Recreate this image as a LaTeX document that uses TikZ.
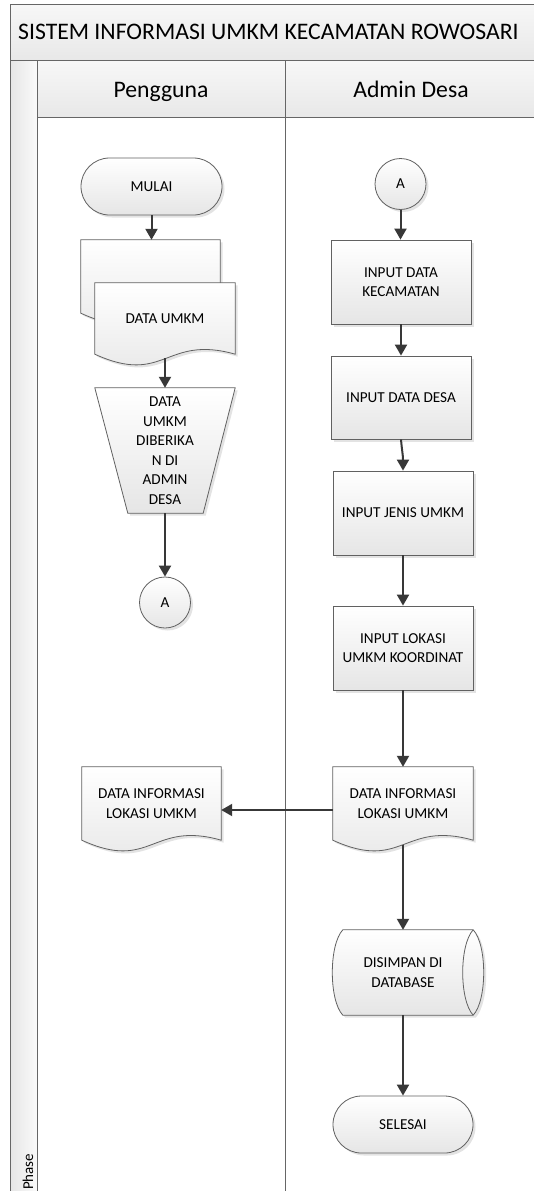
\documentclass[tikz,border=0pt]{standalone}
\usepackage{fontspec}
\setmainfont{Carlito}
\usetikzlibrary{arrows.meta,shapes.geometric,shapes.misc,shadows,calc}
\pgfdeclarelayer{back}
\pgfdeclarelayer{bg}
\pgfsetlayers{back,bg,main}
\begin{document}
\begin{tikzpicture}[x=1pt,y=-1pt,
  frame/.style={draw=black!60, line width=0.9pt},
  flow/.style={draw=black!78, line width=2pt, -{Triangle[width=12pt,length=11pt]}},
  shp/.style={draw=black!62, line width=0.8pt, top color=white, bottom color=black!10,
     drop shadow={shadow xshift=2.5pt, shadow yshift=-2.5pt, opacity=0.22}},
  lbl/.style={font=\fontsize{15.2}{19.5}\selectfont, align=center, text=black, inner sep=0pt},
  procbox/.style={shp, lbl, rectangle, minimum width=140pt, minimum height=84pt},
  term/.style={shp, lbl, rounded rectangle, minimum width=141pt, minimum height=57pt},
  conn/.style={shp, lbl, circle, minimum size=51pt},
  ghost/.style={lbl, rectangle, draw=none, fill=none},
  hdr/.style={font=\fontsize{23.7}{27}\selectfont, text=black, inner sep=0pt}
]
\useasboundingbox (0,0) rectangle (533,1191);

% ---------- swimlane frame ----------
\begin{pgfonlayer}{back}
  \path[fill=white] (0,0) rectangle (533,1191);
  \path[frame, top color=black!3, bottom color=black!9] (10,4) rectangle (545,60);
  \path[frame, top color=black!3, bottom color=black!9] (37,60) rectangle (285,117);
  \path[frame, top color=black!3, bottom color=black!9] (285,60) rectangle (545,117);
  \path[frame, left color=black!10, right color=black!2] (10,60) rectangle (37,1200);
  \draw[frame] (285,117) -- (285,1200);
\end{pgfonlayer}
\node[hdr, anchor=base west] (title) at (18,39) {SISTEM INFORMASI UMKM KECAMATAN ROWOSARI};
\node[hdr, anchor=base] (h1) at (161,97) {Pengguna};
\node[hdr, anchor=base] (h2) at (411,97) {Admin Desa};
\node[lbl, font=\fontsize{15}{18}\selectfont, rotate=90, anchor=base west] (phase) at (33,1190) {Phase};

% ---------- Pengguna lane ----------
\node[term] (mulai) at (151.5,186.5) {MULAI};
\node[ghost, minimum width=139pt, minimum height=73pt] (mdback) at (150.5,276.5) {};
\node[ghost, minimum width=140pt, minimum height=71pt] (md) at (165,318.5) {DATA UMKM};
\node[ghost, minimum width=140pt, minimum height=125pt] (trap) at (165,450.5)
   {DATA\\UMKM\\DIBERIKA\\N DI\\ADMIN\\DESA};
\node[conn] (aL) at (165,602.5) {A};
\node[ghost, minimum width=139pt, minimum height=73pt] (doc1) at (151.5,803.5)
   {DATA INFORMASI\\LOKASI UMKM};

% ---------- Admin Desa lane ----------
\node[conn] (aR) at (400.5,184) {A};
\node[procbox] (kec) at (401,282) {INPUT DATA\\KECAMATAN};
\node[procbox, minimum height=83pt] (desa) at (401,397.5) {INPUT DATA DESA};
\node[procbox] (jenis) at (403,513) {INPUT JENIS UMKM};
\node[procbox] (lokasi) at (403,648) {INPUT LOKASI\\UMKM KOORDINAT};
\node[ghost, minimum width=140pt, minimum height=73pt] (doc2) at (403,803.5)
   {DATA INFORMASI\\LOKASI UMKM};
\node[ghost, minimum width=140pt, minimum height=85pt] (db) at (403,972.5)
   {DISIMPAN DI\\DATABASE};
\node[term, minimum width=140pt] (selesai) at (403,1124.5) {SELESAI};

% ---------- custom outlines ----------
\begin{pgfonlayer}{bg}
  \foreach \d in {mdback,md,doc1,doc2}{
    \path[shp] (\d.north west) -- (\d.north east) -- (\d.south east)
      .. controls ($(\d.south)+(0,-20)$) and ($(\d.south)+(0,32)$) .. (\d.south west) -- cycle;
  }
  \path[shp] (trap.north west) -- (trap.north east) -- ($(trap.south east)+(-32,0)$)
     -- ($(trap.south west)+(33,0)$) -- cycle;
  \path[shp] ($(db.north west)+(10,0)$) -- (db.north east)
     .. controls ($(db.north east)+(14,15)$) and ($(db.south east)+(14,-15)$) .. (db.south east)
     -- ($(db.south west)+(10,0)$)
     .. controls ($(db.south west)+(-4,-15)$) and ($(db.north west)+(-4,15)$) .. cycle;
  \draw[draw=black!62, line width=0.8pt] (db.north east)
     .. controls ($(db.north east)+(-14,15)$) and ($(db.south east)+(-14,-15)$) .. (db.south east);
\end{pgfonlayer}

% ---------- connectors ----------
\draw[flow] (mulai.south) -- (mulai.south |- mdback.north);
\draw[flow] ($(md.south)+(0,4)$) -- (trap.north);
\draw[flow] (trap.south) -- (aL.north);
\draw[flow] (aR.south) -- (aR.south |- kec.north);
\draw[flow] (kec.south) -- (desa.north);
\draw[flow] (desa.south) .. controls ($(desa.south)+(1,12)$) and ($(jenis.north)+(0,-16)$) .. (jenis.north);
\draw[flow] (jenis.south) -- (lokasi.north);
\draw[flow] (lokasi.south) -- (doc2.north);
\draw[flow] ($(doc2.south)+(0,4.5)$) -- (db.north);
\draw[flow] (db.south) -- (selesai.north);
\draw[flow] ([yshift=-6.5pt]doc2.west) -- ([yshift=-6.5pt]doc1.east);
\end{tikzpicture}
\end{document}
